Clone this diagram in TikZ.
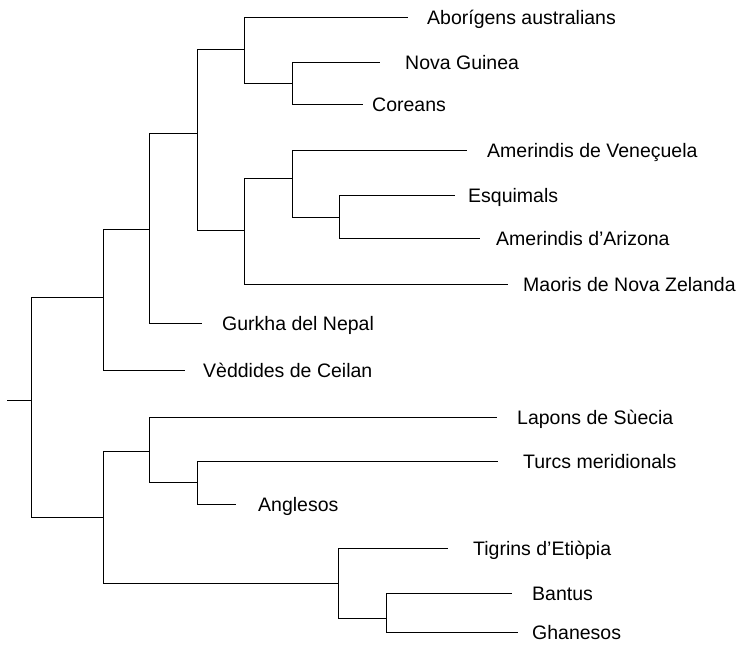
\documentclass[tikz,border=0pt]{standalone}
\usepackage{fontspec}
\setmainfont{Liberation Sans}
\begin{document}
\begin{tikzpicture}[x=1pt,y=-1pt,
  br/.style={draw=black,line width=0.9pt},
  lf/.style={anchor=base west,inner sep=0pt,font=\fontsize{19.5}{23}\selectfont}]
\useasboundingbox (0,0) rectangle (742,651);
% internal nodes
\coordinate (s) at (7,400);
\coordinate (r) at (31,400);
\coordinate (G) at (103,297);
\coordinate (F) at (149,229);
\coordinate (B) at (197,133);
\coordinate (A) at (244,49);
\coordinate (NC) at (292,83);
\coordinate (C) at (244,230);
\coordinate (D) at (292,178);
\coordinate (E) at (339,217);
\coordinate (H) at (103,517);
\coordinate (I) at (149,451);
\coordinate (J) at (197,482);
\coordinate (K) at (338,583);
\coordinate (L) at (386,618);
% leaf ends
\coordinate (eAbo) at (408,17);
\coordinate (eNov) at (380,62);
\coordinate (eCor) at (363,104);
\coordinate (eVen) at (467,150);
\coordinate (eEsq) at (455,195);
\coordinate (eAri) at (480,238);
\coordinate (eMao) at (508,284);
\coordinate (eGur) at (202,323);
\coordinate (eVed) at (185,370);
\coordinate (eLap) at (497,417);
\coordinate (eTur) at (498,461);
\coordinate (eAng) at (236,504);
\coordinate (eTig) at (448,548);
\coordinate (eBan) at (512,593);
\coordinate (eGha) at (518,632);
% labels
\node[lf] (tAbo) at (427,24) {Aborígens australians};
\node[lf] (tNov) at (405,69) {Nova Guinea};
\node[lf] (tCor) at (372,111) {Coreans};
\node[lf] (tVen) at (487,157) {Amerindis de Veneçuela};
\node[lf] (tEsq) at (468,202) {Esquimals};
\node[lf] (tAri) at (496,245) {Amerindis d’Arizona};
\node[lf] (tMao) at (523,291) {Maoris de Nova Zelanda};
\node[lf] (tGur) at (222,330) {Gurkha del Nepal};
\node[lf] (tVed) at (203,377) {Vèddides de Ceilan};
\node[lf] (tLap) at (517,424) {Lapons de Sùecia};
\node[lf] (tTur) at (523,468) {Turcs meridionals};
\node[lf] (tAng) at (258,511) {Anglesos};
\node[lf] (tTig) at (473,555) {Tigrins d’Etiòpia};
\node[lf] (tBan) at (532,600) {Bantus};
\node[lf] (tGha) at (532,639) {Ghanesos};
% branches
\draw[br] (s) -- (r);
\draw[br] (r) |- (G);
\draw[br] (r) |- (H);
\draw[br] (G) |- (F);
\draw[br] (G) |- (eVed);
\draw[br] (F) |- (B);
\draw[br] (F) |- (eGur);
\draw[br] (B) |- (A);
\draw[br] (B) |- (C);
\draw[br] (A) |- (eAbo);
\draw[br] (A) |- (NC);
\draw[br] (NC) |- (eNov);
\draw[br] (NC) |- (eCor);
\draw[br] (C) |- (D);
\draw[br] (C) |- (eMao);
\draw[br] (D) |- (eVen);
\draw[br] (D) |- (E);
\draw[br] (E) |- (eEsq);
\draw[br] (E) |- (eAri);
\draw[br] (H) |- (I);
\draw[br] (H) |- (K);
\draw[br] (I) |- (eLap);
\draw[br] (I) |- (J);
\draw[br] (J) |- (eTur);
\draw[br] (J) |- (eAng);
\draw[br] (K) |- (eTig);
\draw[br] (K) |- (L);
\draw[br] (L) |- (eBan);
\draw[br] (L) |- (eGha);
\end{tikzpicture}
\end{document}
